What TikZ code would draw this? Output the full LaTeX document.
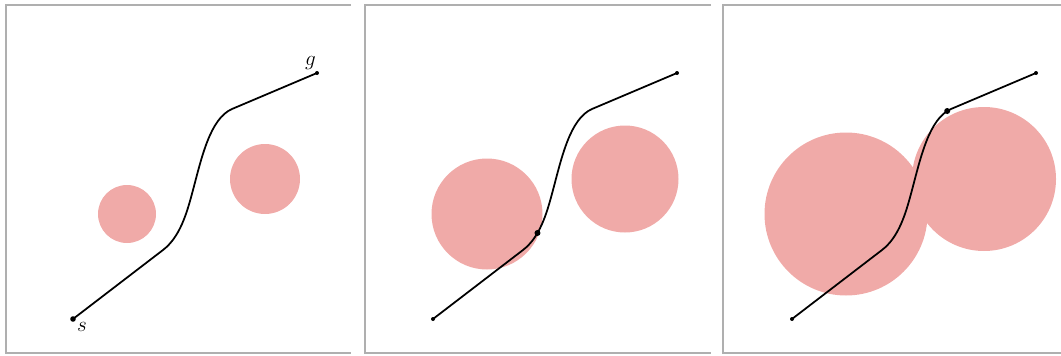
\documentclass[tikz,border=0pt]{standalone}
\usepackage{tikz}
\usetikzlibrary{positioning}
\definecolor{obst}{RGB}{240,170,168}
\definecolor{panegray}{RGB}{175,175,175}

\begin{document}
\begin{tikzpicture}[x=0.02cm,y=-0.02cm,
  obs/.style={fill=obst},
  traj/.style={draw=black,line width=1pt},
  pane/.style={draw=panegray,line width=1.1pt},
  wp/.style={fill=black},
  lbl/.style={font=\large,inner sep=1pt}]
  \useasboundingbox (0,0) rectangle (1061,355);

  % panel frames, open on the right
  \draw[pane] (351,5) -- (6,5) -- (6,353) -- (351,353);
  \draw[pane] (711,5) -- (365,5) -- (365,353) -- (711,353);
  \draw[pane] (1061,5) -- (723,5) -- (723,353) -- (1061,353);

  % same start, goal and trajectory in each panel, obstacles grow
  \foreach \dx/\ra/\rb in {0/29/35,360/55.5/53.5,719/81.5/72}{
    \begin{scope}[shift={(\dx,0)}]
      \fill[obs] (127,214) circle (\ra);
      \fill[obs] (265,179) circle (\rb);
      \coordinate (s\dx) at (73,319);
      \coordinate (g\dx) at (317,73);
      \draw[traj] (s\dx) -- (163,250)
        .. controls (180,236.9) and (186.7,213.8) .. coordinate[pos=0.35] (m\dx) (193,190)
        .. controls (201.6,157.8) and (210.1,118.5) .. coordinate[pos=0.94] (n\dx) (232,109)
        -- (g\dx);
    \end{scope}}

  % endpoints
  \fill[wp] (s0) circle (2.8);
  \fill[wp] (g0) circle (2);
  \fill[wp] (s360) circle (2);
  \fill[wp] (g360) circle (2);
  \fill[wp] (s719) circle (2);
  \fill[wp] (g719) circle (2);

  % contact points
  \fill[wp] (m360) circle (3);
  \fill[wp] (n719) circle (3);

  \node[lbl,below right=0.8pt and 1.2pt of s0] (slbl) {$s$};
  \node[lbl,above left=1pt and -0.5pt of g0] (glbl) {$g$};
\end{tikzpicture}
\end{document}
